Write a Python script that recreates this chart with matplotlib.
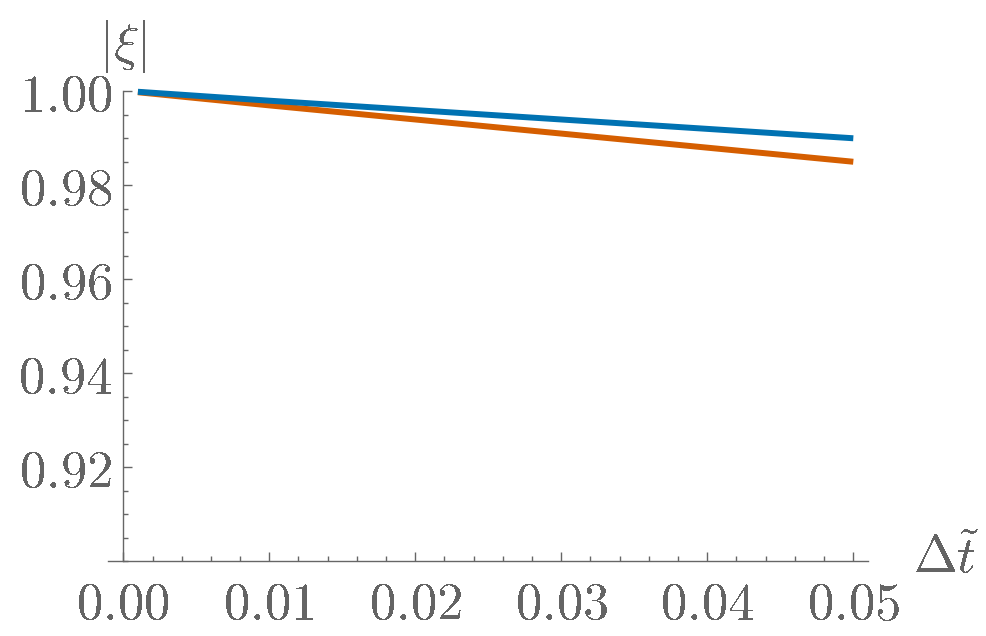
import matplotlib
matplotlib.use("Agg")
import matplotlib.pyplot as plt
from matplotlib.ticker import MultipleLocator, FixedLocator

plt.rcParams['mathtext.fontset'] = 'cm'
plt.rcParams['text.antialiased'] = False

# data
dt = [0.001, 0.01, 0.02, 0.03, 0.04, 0.05]
xi_blue = [0.9999, 0.998, 0.996, 0.994, 0.992, 0.990]
xi_orange = [0.9998, 0.997, 0.994, 0.991, 0.988, 0.985]
xticks = [0.00, 0.01, 0.02, 0.03, 0.04, 0.05]
xticklabels = ['0.00', '0.01', '0.02', '0.03', '0.04', '0.05']
yticks = [0.92, 0.94, 0.96, 0.98, 1.00]
yticklabels = ['0.92', '0.94', '0.96', '0.98', '1.00']

W, H = 986, 636
fig = plt.figure(figsize=(W / 100, H / 100), dpi=100)
left_px, right_px = 108, 868
top_px, bot_px = 91.3, 561
ax = fig.add_axes([left_px / W, 1 - bot_px / H, (right_px - left_px) / W, (bot_px - top_px) / H])

pxper = 14600.0
ax.set_xlim(-(123.3 - left_px) / pxper, 0.05 + (right_px - 853.3) / pxper)
ax.set_ylim(0.90, 1.00)

gray = '#666666'
tcol = '#646464'

ax.plot(dt, xi_orange, color='#D55E00', lw=4.3, clip_on=False, solid_capstyle='butt', zorder=3)
ax.plot(dt, xi_blue, color='#0072B2', lw=4.3, clip_on=False, solid_capstyle='butt', zorder=4)

for s in ['top', 'right']:
    ax.spines[s].set_visible(False)
ax.spines['left'].set_position(('data', 0))
for s in ['left', 'bottom']:
    ax.spines[s].set_color(gray)
    ax.spines[s].set_linewidth(1.0)

ax.xaxis.set_major_locator(FixedLocator(xticks))
ax.xaxis.set_minor_locator(MultipleLocator(0.002))
ax.yaxis.set_major_locator(FixedLocator(yticks))
ax.yaxis.set_minor_locator(MultipleLocator(0.005))
ax.set_xticklabels(['$' + t + '$' for t in xticklabels])
ax.set_yticklabels(['$' + t + '$' for t in yticklabels])

ax.tick_params(which='major', direction='in', length=6.5, width=1.0, color=gray,
               labelsize=38, labelcolor=tcol)
ax.tick_params(which='minor', direction='in', length=3.5, width=1.0, color=gray)
ax.tick_params(axis='x', which='major', pad=13)
ax.tick_params(axis='y', which='major', pad=8)

ax.text(0.0, 1.0 + (91.3 - 47) / 4685, r'$|\xi|$', fontsize=38, color=tcol,
        ha='center', va='center', transform=ax.transData, clip_on=False)
fig.text(913 / W, 1 - 558 / H, r'$\Delta\tilde{t}$', fontsize=38, color=tcol,
         ha='left', va='center')

fig.savefig('out.png', dpi=100)
